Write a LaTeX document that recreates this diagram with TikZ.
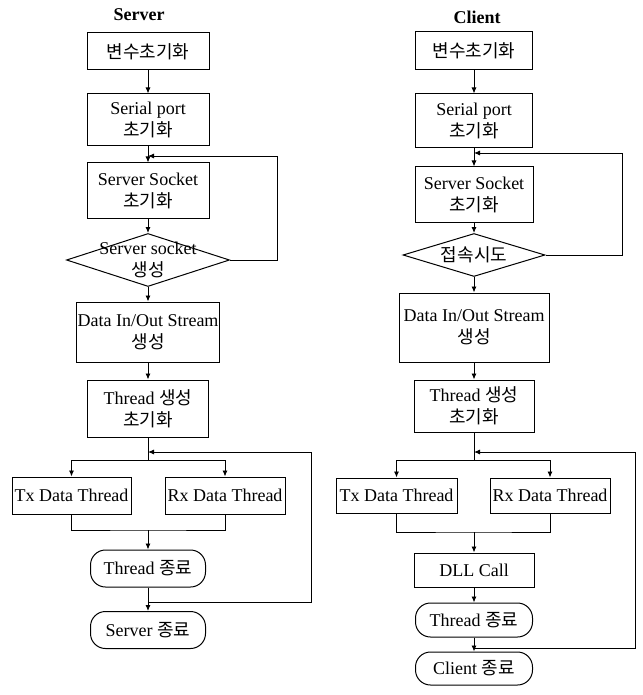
\documentclass[tikz,border=0pt]{standalone}
\usepackage{fontspec}
\setmainfont{Liberation Serif}
\newfontfamily\kr{Noto Sans CJK KR}
\usetikzlibrary{arrows.meta,shapes.geometric}
\begin{document}
\begin{tikzpicture}[x=1pt,y=-1pt,
  box/.style={draw, line width=1pt, inner sep=0pt, align=center, font=\fontsize{18}{22}\selectfont},
  wh/.style 2 args={minimum width=#1pt, minimum height=#2pt},
  term/.style={box, rounded corners=15pt},
  dia/.style={draw, diamond, line width=1pt, inner sep=0pt},
  dtext/.style={align=center, inner sep=0pt, font=\fontsize{18}{22}\selectfont},
  ar/.style={line width=0.9pt, -{Latex[length=6pt,width=5pt]}},
  ln/.style={line width=0.9pt},
  ttl/.style={font=\fontsize{18}{22}\selectfont\bfseries}
]
\useasboundingbox (0,0) rectangle (642,695);

% ---------------- Server ----------------
\node[ttl] (st) at (139,15) {Server};
\node[box, wh={122}{37}] (s1) at (148,51.5) {{\kr 변수초기화}};
\node[box, wh={122}{52}] (s2) at (148,120) {Serial port\\{\kr 초기화}};
\node[box, wh={122}{55}] (s3) at (148,190.5) {Server Socket\\{\kr 초기화}};
\node[dia, wh={163}{53}] (sd) at (148,260) {};
\node[dtext] (sdt) at (sd.center) {Server socket\\{\kr 생성}};
\node[box, wh={143}{60}] (s4) at (148,332) {Data In/Out Stream\\{\kr 생성}};
\node[box, wh={121}{57}] (s5) at (148,408.5) {Thread {\kr 생성}\\{\kr 초기화}};
\node[box, wh={119}{37}] (stx) at (71.5,495.5) {Tx Data Thread};
\node[box, wh={120}{37}] (srx) at (225,495.5) {Rx Data Thread};
\node[term, wh={115}{37}] (s6) at (148,568.5) {Thread {\kr 종료}};
\node[term, wh={115}{37}] (s7) at (148,630) {Server {\kr 종료}};

\coordinate (sj1) at (148,156);
\coordinate (sr1) at (277,260);
\coordinate (sj) at (148,452);
\coordinate (sb) at (148,460);
\coordinate (sm) at (148,530);
\coordinate (sm2) at (148,602);
\coordinate (sr2) at (311,602);

\draw[ar] (s1) -- (s2);
\draw[ar] (s2) -- (s3);
\draw[ar] (s3) -- (sd);
\draw[ar] (sd) -- (s4);
\draw[ar] (s4) -- (s5);
\draw[ar] (sd.east) -- (sr1) |- (sj1);
\draw[ln] (s5) -- (sb);
\draw[ar] (sb) -| (stx);
\draw[ar] (sb) -| (srx);
\draw[ln] (stx.south) |- (sm) -| (srx.south);
\draw[ar] (sm) -- (s6);
\draw[ar] (s6) -- (s7);
\draw[ar] (sm2) -- (sr2) |- (sj);

% ---------------- Client ----------------
\node[ttl] (ct) at (477,17) {Client};
\node[box, wh={117}{38}] (c1) at (474,51) {{\kr 변수초기화}};
\node[box, wh={117}{54}] (c2) at (474,121) {Serial port\\{\kr 초기화}};
\node[box, wh={118}{55}] (c3) at (474,194.5) {Server Socket\\{\kr 초기화}};
\node[dia, wh={142}{43}] (cd) at (474,255) {};
\node[dtext] (cdt) at (cd.center) {{\kr 접속시도}};
\node[box, wh={150}{69}] (c4) at (474,327.5) {Data In/Out Stream\\{\kr 생성}};
\node[box, wh={120}{52}] (c5) at (474,406) {Thread {\kr 생성}\\{\kr 초기화}};
\node[box, wh={121}{35}] (ctx) at (396.5,495.5) {Tx Data Thread};
\node[box, wh={120}{35}] (crx) at (550,495.5) {Rx Data Thread};
\node[box, wh={120}{34}] (cdll) at (474,570) {DLL Call};
\node[term, wh={117}{34}] (c6) at (474,620) {Thread {\kr 종료}};
\node[term, wh={117}{33}] (c7) at (474,668.5) {Client {\kr 종료}};

\coordinate (cj1) at (474,153);
\coordinate (cr1) at (622,255);
\coordinate (cj) at (474,452);
\coordinate (cb) at (474,460);
\coordinate (cm) at (474,532);
\coordinate (cm2) at (474,648);
\coordinate (cr2) at (635,648);

\draw[ar] (c1) -- (c2);
\draw[ar] (c2) -- (c3);
\draw[ar] (c3) -- (cd);
\draw[ar] (cd) -- (c4);
\draw[ar] (c4) -- (c5);
\draw[ar] (cd.east) -- (cr1) |- (cj1);
\draw[ln] (c5) -- (cb);
\draw[ar] (cb) -| (ctx);
\draw[ar] (cb) -| (crx);
\draw[ln] (ctx.south) |- (cm) -| (crx.south);
\draw[ar] (cm) -- (cdll);
\draw[ar] (cdll) -- (c6);
\draw[ar] (c6) -- (c7);
\draw[ar] (cm2) -- (cr2) |- (cj);
\end{tikzpicture}
\end{document}
